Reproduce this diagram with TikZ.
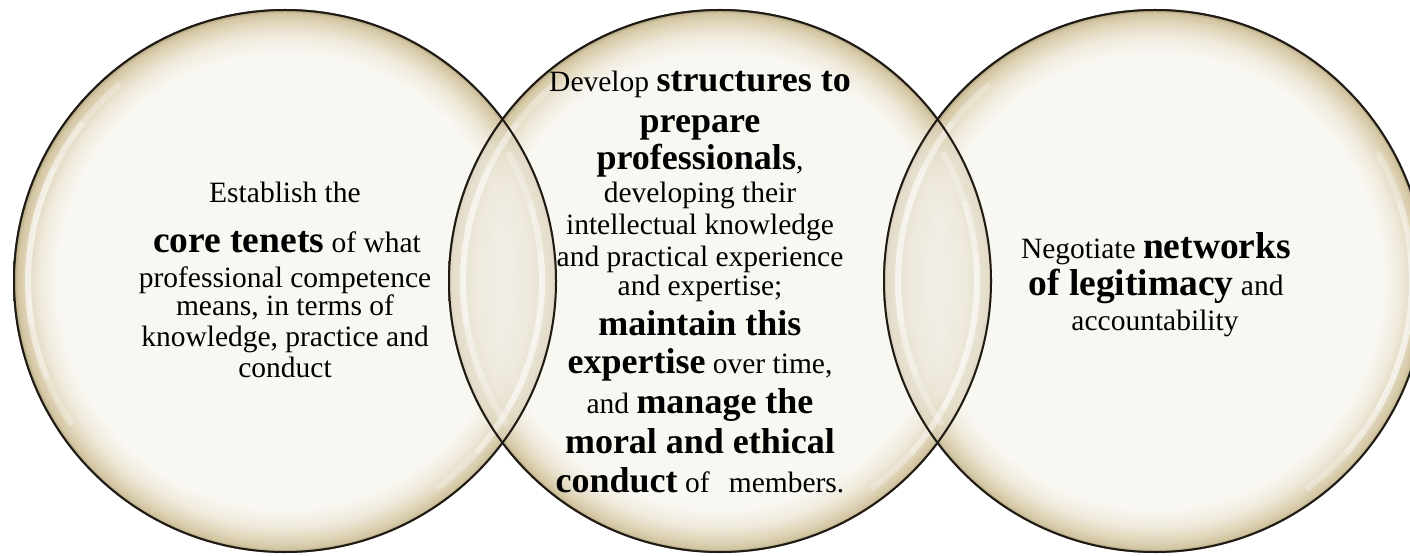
\documentclass[tikz,border=0pt]{standalone}
\usepackage{fontspec}
\setmainfont{Liberation Serif}

% palette of the glassy discs
\definecolor{cream}{HTML}{F9F7F2}
\definecolor{bandA}{HTML}{F0EADC}
\definecolor{bandB}{HTML}{E0D6BB}
\definecolor{bandC}{HTML}{D2C5A2}
\definecolor{bandD}{HTML}{B3A47F}
\definecolor{rim}{HTML}{4A4233}
\definecolor{outline}{HTML}{1E1A14}
\definecolor{lenstint}{HTML}{E4DDCB}

% cream centre, tan band toward the rim (25bp = rim of the disc)
\pgfdeclareradialshading{bubble}{\pgfpoint{0bp}{0bp}}{%
  color(0bp)=(cream); color(21.0bp)=(cream); color(22.6bp)=(bandA);
  color(23.8bp)=(bandB); color(24.6bp)=(bandC); color(24.9bp)=(bandD);
  color(25bp)=(rim); color(50bp)=(rim)}

\tikzset{
  txt/.style={anchor=base, inner sep=0pt, font=\fontsize{29.5}{32}\selectfont},
  rimline/.style={draw=outline, line width=2pt},
  gloss/.style={draw=white, line width=6pt, opacity=0.28, line cap=butt},
}
\newcommand{\midb}[1]{{\fontsize{36}{40}\selectfont\bfseries #1}}
\newcommand{\sideb}[1]{{\fontsize{37.5}{40}\selectfont\bfseries #1}}

\begin{document}
\begin{tikzpicture}
\useasboundingbox (0,0) rectangle (1410pt,555pt);
\fill[white] (0,0) rectangle (1410pt,555pt);
\clip (0,0) rectangle (1410pt,555pt);

\coordinate (cL) at (285pt,274pt);
\coordinate (cM) at (720pt,274pt);
\coordinate (cR) at (1155pt,274pt);

% the three discs
\shade[shading=bubble] (cL) circle[radius=272pt];
\shade[shading=bubble] (cR) circle[radius=272pt];
\shade[shading=bubble] (cM) circle[radius=272pt];

% overlapping lenses: outer discs show through the middle one
\begin{scope}
  \clip (cM) circle[radius=272pt];
  \begin{scope}[transparency group, opacity=0.5]
    \shade[shading=bubble] (cL) circle[radius=272pt];
    \shade[shading=bubble] (cR) circle[radius=272pt];
  \end{scope}
  \fill[lenstint, opacity=0.35] (cL) circle[radius=272pt];
  \fill[lenstint, opacity=0.35] (cR) circle[radius=272pt];
\end{scope}

% glossy highlights on the left and right flanks of each disc
\foreach \c in {cL,cM,cR}{
  \foreach \s in {18,30,42}{
    \draw[gloss] ([shift={(172-\s:257pt)}]\c) arc[start angle=172-\s, end angle=172+\s, radius=257pt];
    \draw[gloss] ([shift={(-12-\s:257pt)}]\c) arc[start angle=-12-\s, end angle=-12+\s, radius=257pt];
  }
}

% rims
\draw[rimline] (cL) circle[radius=271pt];
\draw[rimline] (cR) circle[radius=271pt];
\draw[rimline] (cM) circle[radius=271pt];

% left disc
\node[txt] (l1) at (285pt,352pt) {Establish the};
\node[txt] (l2) at (287pt,302pt) {\sideb{core tenets} of what};
\node[txt] (l3) at (285pt,268pt) {professional competence};
\node[txt] (l4) at (285pt,240pt) {means, in terms of};
\node[txt] (l5) at (285pt,209pt) {knowledge, practice and};
\node[txt] (l6) at (285pt,178pt) {conduct};

% middle disc
\node[txt] (m1)  at (700pt,463pt) {Develop \midb{structures to}};
\node[txt] (m2)  at (700pt,422pt) {\midb{prepare}};
\node[txt] (m3)  at (700pt,385pt) {\midb{professionals},};
\node[txt] (m4)  at (700pt,352pt) {developing their};
\node[txt] (m5)  at (700pt,320pt) {intellectual knowledge};
\node[txt] (m6)  at (700pt,288pt) {and practical experience};
\node[txt] (m7)  at (700pt,260pt) {and expertise;};
\node[txt] (m8)  at (700pt,220pt) {\midb{maintain this}};
\node[txt] (m9)  at (700pt,182pt) {\midb{expertise} over time,};
\node[txt] (m10) at (700pt,142pt) {and \midb{manage the}};
\node[txt] (m11) at (700pt,102pt) {\midb{moral and ethical}};
\node[txt] (m12) at (700pt,63pt)  {\midb{conduct} of\hspace{0.4em} members.};

% right disc
\node[txt] (r1) at (1156pt,297pt) {Negotiate \sideb{networks}};
\node[txt] (r2) at (1156pt,260pt) {\sideb{of legitimacy} and};
\node[txt] (r3) at (1155pt,225pt) {accountability};
\end{tikzpicture}
\end{document}
